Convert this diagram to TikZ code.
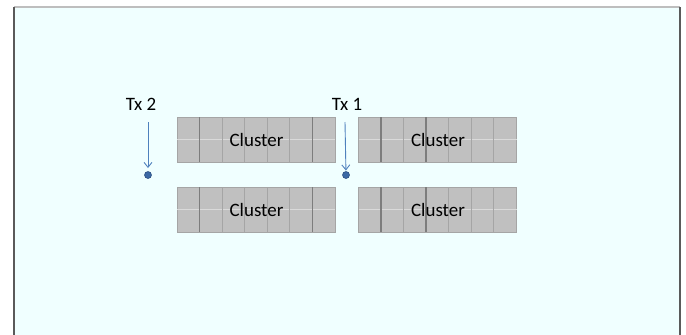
\documentclass[tikz,border=0pt]{standalone}
\usepackage{fontspec}
\setmainfont{Carlito}
\usetikzlibrary{arrows.meta}
\definecolor{bgfill}{RGB}{240,255,255}
\definecolor{cellfill}{RGB}{192,192,192}
\definecolor{darkline}{RGB}{125,125,125}
\definecolor{lightline}{RGB}{165,165,165}
\definecolor{midline}{RGB}{218,218,218}
\definecolor{accent}{RGB}{79,129,189}
\definecolor{dotfill}{RGB}{60,105,165}
\definecolor{dotdraw}{RGB}{45,80,130}
\tikzset{
  cellbox/.style={fill=cellfill, draw=lightline, line width=0.8},
  thickv/.style={draw=darkline, line width=1.6},
  thinv/.style={draw=lightline, line width=0.9},
  hline/.style={draw=midline, line width=1},
  lbl/.style={font=\fontsize{19}{21}\selectfont, inner sep=0pt},
  txdot/.style={circle, fill=dotfill, draw=dotdraw, line width=0.6, minimum size=7, inner sep=0pt},
  txarrow/.style={draw=accent, line width=0.9, -{Straight Barb[length=5,width=8]}},
  clusterA/.pic={
    \fill[cellbox] (-79,-22.5) rectangle (79,22.5);
    \draw[hline] (-79,0) -- (79,0);
    \foreach \k in {2,3,4,5} {\draw[thinv] (-79+\k*22.571,-22.5) -- (-79+\k*22.571,22.5);}
    \foreach \k in {1,6} {\draw[thickv] (-79+\k*22.571,-22.5) -- (-79+\k*22.571,22.5);}
    \node[lbl] (-label) at (0.5,0) {Cluster};
  },
  clusterB/.pic={
    \fill[cellbox] (-79,-22.5) rectangle (79,22.5);
    \draw[hline] (-79,0) -- (79,0);
    \foreach \k in {2,4,5,6} {\draw[thinv] (-79+\k*22.571,-22.5) -- (-79+\k*22.571,22.5);}
    \foreach \k in {1,3} {\draw[thickv] (-79+\k*22.571,-22.5) -- (-79+\k*22.571,22.5);}
    \node[lbl] (-label) at (0.5,0) {Cluster};
  }
}
\begin{document}
\begin{tikzpicture}[x=1bp,y=-1bp]
\useasboundingbox (0,0) rectangle (686,334);
\fill[white] (0,0) rectangle (686,334);
\fill[bgfill] (14,7) rectangle (680,340);
\draw[draw={rgb,255:red,190;green,190;blue,190}, line width=1.6] (14,7) -- (680,7);
\draw[draw={rgb,255:red,90;green,90;blue,90}, line width=1.8] (14,7) -- (14,340);
\draw[draw={rgb,255:red,90;green,90;blue,90}, line width=1.8] (680,7) -- (680,340);

\pic (c1) at (256,139.5) {clusterA};
\pic (c2) at (437.5,139.5) {clusterB};
\pic (c3) at (256,209.5) {clusterA};
\pic (c4) at (437.5,209.5) {clusterB};

\node[lbl] (tx2) at (141,104) {Tx 2};
\node[lbl] (tx1) at (347,104) {Tx 1};
\node[txdot] (d2) at (148,175) {};
\node[txdot] (d1) at (346,175) {};
\coordinate (a2) at (148,122);
\coordinate (a1) at (345,122);
\draw[txarrow, shorten >=7] (a2) -- (d2.center);
\draw[txarrow, shorten >=4.5] (a1) -- (d1.center);
\end{tikzpicture}
\end{document}
